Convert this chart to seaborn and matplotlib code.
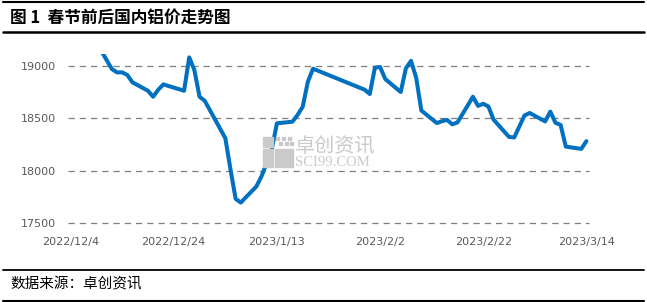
import matplotlib
matplotlib.use("Agg")
import matplotlib.pyplot as plt
from matplotlib.lines import Line2D
from matplotlib.patches import Rectangle
import pandas as pd
import seaborn as sns

dates = ["2022-12-09", "2022-12-12", "2022-12-13", "2022-12-14", "2022-12-15", "2022-12-16",
         "2022-12-19", "2022-12-20", "2022-12-21", "2022-12-22", "2022-12-23", "2022-12-26",
         "2022-12-27", "2022-12-28", "2022-12-29", "2022-12-30",
         "2023-01-03", "2023-01-04", "2023-01-05", "2023-01-06", "2023-01-09", "2023-01-10",
         "2023-01-11", "2023-01-12", "2023-01-13", "2023-01-16", "2023-01-17", "2023-01-18",
         "2023-01-19", "2023-01-20", "2023-01-30", "2023-01-31",
         "2023-02-01", "2023-02-02", "2023-02-03", "2023-02-06", "2023-02-07", "2023-02-08",
         "2023-02-09", "2023-02-10", "2023-02-13", "2023-02-14", "2023-02-15", "2023-02-16",
         "2023-02-17", "2023-02-20", "2023-02-21", "2023-02-22", "2023-02-23", "2023-02-24",
         "2023-02-27", "2023-02-28",
         "2023-03-01", "2023-03-02", "2023-03-03", "2023-03-06", "2023-03-07", "2023-03-08",
         "2023-03-09", "2023-03-10", "2023-03-13", "2023-03-14"]
prices = [19220, 18967, 18935, 18935, 18910, 18840, 18760, 18703, 18770, 18821, 18805, 18760,
          19078, 18957, 18703, 18665,
          18308, 18010, 17730, 17695, 17847, 17943, 18070, 18200, 18450, 18465, 18529, 18608,
          18846, 18970, 18770, 18729,
          18981, 18986, 18872, 18748, 18973, 19045, 18883, 18572, 18452, 18470, 18482, 18440,
          18458, 18703, 18616, 18636, 18610, 18485, 18320, 18315,
          18420, 18525, 18548, 18468, 18561, 18455, 18434, 18228, 18206, 18280]
x_ticks = ["2022-12-04", "2022-12-24", "2023-01-13", "2023-02-02", "2023-02-22", "2023-03-14"]
y_ticks = [17500, 18000, 18500, 19000]
title = "图 1  春节前后国内铝价走势图"
source = "数据来源：卓创资讯"

sns.set_theme(style="white")
plt.rcParams["font.family"] = ["DejaVu Sans", "Noto Sans CJK SC"]

df = pd.DataFrame({"date": pd.to_datetime(dates), "price": prices})

fig = plt.figure(figsize=(6.47, 3.02), dpi=100)
ax = fig.add_axes([68 / 647, (302 - 223) / 302, (589 - 68) / 647, (223 - 53.5) / 302])

for yv in y_ticks:
    ax.axhline(yv, color="#7f7f7f", lw=0.9, ls=(0, (5, 4)), zorder=1, clip_on=False)

sns.lineplot(data=df, x="date", y="price", ax=ax, color="#0070C0", lw=2.9, zorder=3,
             solid_joinstyle="round", solid_capstyle="round")

start = pd.Timestamp("2022-12-04") - pd.Timedelta(hours=12)
end = pd.Timestamp("2023-03-14") + pd.Timedelta(hours=12)
ax.set_xlim(start, end)
ax.set_ylim(17500, 19115)
xt = pd.to_datetime(x_ticks)
ax.set_xticks(xt)
ax.set_xticklabels([f"{d.year}/{d.month}/{d.day}" for d in xt])
ax.set_yticks(y_ticks)
ax.set_yticklabels([str(v) for v in y_ticks])
ax.tick_params(axis="both", labelsize=8, colors="#595959", length=0)
ax.tick_params(axis="y", pad=9)
ax.tick_params(axis="x", pad=10)
ax.set_xlabel("")
ax.set_ylabel("")
for s in ax.spines.values():
    s.set_visible(False)
ax.set_facecolor("none")

# watermark
wm = "#cacaca"
fig.text(295 / 647, 1 - 146 / 302, "卓创资讯", fontsize=14.5, color=wm, va="center", ha="left",
         family=["Noto Sans CJK SC"], zorder=0)
fig.text(295 / 647, 1 - 162 / 302, "SCI99.COM", fontsize=10.5, color=wm, va="center", ha="left",
         family=["Liberation Serif"], zorder=0)
for (x0, y0, w, h) in [(263, 137, 10, 10), (263, 149, 10, 18), (275, 149, 18, 18)]:
    fig.patches.append(Rectangle((x0 / 647, 1 - (y0 + h) / 302), w / 647, h / 302,
                                 transform=fig.transFigure, color=wm, zorder=0))
for (x0, y0) in [(276, 137), (282, 137), (288, 137), (279, 142), (285, 142), (290, 142)]:
    fig.patches.append(Rectangle((x0 / 647, 1 - (y0 + 3) / 302), 3 / 647, 3 / 302,
                                 transform=fig.transFigure, color=wm, zorder=0))

# title, source and rules
fig.text(10 / 647, 1 - 18 / 302, title, fontsize=12, fontweight="bold", color="black",
         va="center", ha="left", family=["Noto Sans CJK SC", "DejaVu Sans"])
fig.text(10 / 647, 1 - 284 / 302, source, fontsize=10.5, color="black",
         va="center", ha="left", family=["Noto Sans CJK SC", "DejaVu Sans"])
for yy, lw in [(1.5, 1.5), (32, 1.8), (270, 1.3), (300.5, 1.5)]:
    fig.add_artist(Line2D([3 / 647, 644 / 647], [1 - yy / 302, 1 - yy / 302],
                          color="black", lw=lw, transform=fig.transFigure))

fig.savefig("out.png", dpi=100)
